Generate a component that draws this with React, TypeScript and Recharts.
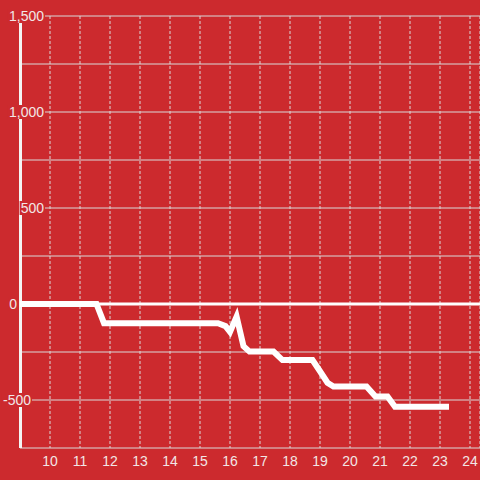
import React from 'react';
import { LineChart, Line, XAxis, YAxis, CartesianGrid, ReferenceLine } from 'recharts';

const xValues = [9, 11.55, 11.8, 15.6, 15.85, 16.0, 16.22, 16.45, 16.65, 17.45, 17.75, 18.75, 19.0, 19.25, 19.45, 20.55, 20.85, 21.25, 21.5, 23.3];
const yValues = [0, 0, -100, -100, -115, -145, -65, -220, -248, -248, -292, -292, -350, -410, -430, -430, -482, -482, -535, -535];
const xTicks = [10, 11, 12, 13, 14, 15, 16, 17, 18, 19, 20, 21, 22, 23, 24];
const yTicks = [-750, -500, -250, 0, 250, 500, 750, 1000, 1250, 1500];
const yLabelled = [-500, 0, 500, 1000, 1500];

const data = xValues.map((x, i) => ({ x, y: yValues[i] }));

const BG = '#cc2a2e';
const TEXT = '#f2e6e6';
const FONT = '"Liberation Sans", Arial, sans-serif';

const labelRight = (v: number) => (v > 0 ? 44 : v === 0 ? 17 : 31);
const textWidth = (s: string) =>
  s.split('').reduce((w, c) => w + (c === ',' ? 3.9 : c === '-' ? 4.7 : 7.8), 0);

const YTick = (props: any) => {
  const { y, payload } = props;
  if (!yLabelled.includes(payload.value)) return null;
  const label = payload.value.toLocaleString('en-US');
  const xEnd = labelRight(payload.value);
  const w = textWidth(label);
  return (
    <g>
      <rect x={xEnd - w - 1} y={y - 7} width={w + 2} height={14} fill={BG} />
      <text
        x={xEnd}
        y={y}
        dy="0.35em"
        textAnchor="end"
        fill={TEXT}
        fontSize={14}
        fontFamily={FONT}
      >
        {label}
      </text>
    </g>
  );
};

const XTick = (props: any) => {
  const { x, payload } = props;
  return (
    <text x={x} y={461} dy="0.35em" textAnchor="middle" fill={TEXT} fontSize={14} fontFamily={FONT}>
      {payload.value}
    </text>
  );
};

const axisLineGen = (p: any) => [(p && p.offset ? p.offset.left : 20) + 0.5];

export default function App() {
  return (
    <div style={{ position: 'absolute', left: 0, top: 0, width: 480, height: 480, background: BG }}>
      <LineChart width={480} height={480} data={data} margin={{ top: 16, right: 0, left: 0, bottom: 0 }}>
        <CartesianGrid horizontal={true} vertical={false} stroke="#d9d9d9" strokeWidth={1} />
        <CartesianGrid horizontal={false} vertical={true} stroke="#d9d9d9" strokeWidth={1} strokeDasharray="3 2" />
        <CartesianGrid
          horizontal={false}
          vertical={true}
          verticalCoordinatesGenerator={axisLineGen}
          stroke="#f4f4f4"
          strokeWidth={3}
        />
        <XAxis
          type="number"
          dataKey="x"
          domain={[9, 9 + 460 / 30]}
          ticks={xTicks}
          axisLine={false}
          tickLine={false}
          height={32}
          tick={<XTick />}
          allowDataOverflow
        />
        <ReferenceLine y={0} stroke="#ffffff" strokeWidth={3} />
        <Line
          type="linear"
          dataKey="y"
          stroke="#ffffff"
          strokeWidth={6}
          dot={false}
          isAnimationActive={false}
        />
        <YAxis
          type="number"
          domain={[-750, 1500]}
          ticks={yTicks}
          width={20}
          axisLine={false}
          tickLine={false}
          tick={<YTick />}
          interval={0}
        />
      </LineChart>
    </div>
  );
}
